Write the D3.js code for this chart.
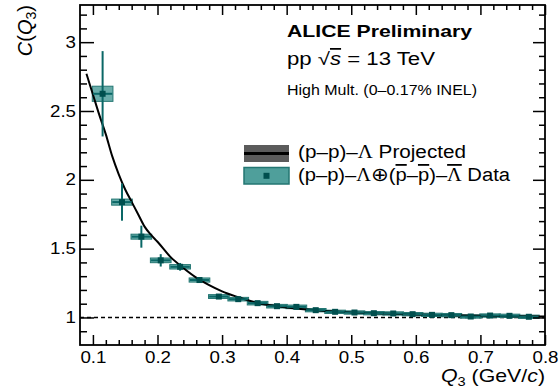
<!DOCTYPE html>
<html><head><meta charset="utf-8">
<script src="https://cdn.jsdelivr.net/npm/d3@7"></script>
<style>
html,body{margin:0;padding:0;background:#fff;}
svg{display:block;font-family:"Liberation Sans",Arial,Helvetica,sans-serif;}
</style></head>
<body><svg id="c" width="559" height="391"></svg>
<script>
// ---- data ----
const q3 = [0.115,0.145,0.175,0.205,0.235,0.265,0.295,0.325,0.355,0.385,0.415,0.445,0.475,0.505,0.535,0.565,0.595,0.625,0.655,0.685,0.715,0.745,0.775];
const cq3 = [2.625,1.838,1.587,1.415,1.368,1.272,1.152,1.133,1.104,1.082,1.077,1.053,1.041,1.036,1.031,1.029,1.024,1.019,1.017,1.007,1.014,1.012,1.005];
const statErr = [0.31,0.135,0.08,0.045,0.028,0.02,0.012,0.01,0.009,0.008,0.008,0.007,0.007,0.006,0.006,0.006,0.006,0.006,0.006,0.006,0.006,0.006,0.006];
const sysErr = [0.055,0.022,0.018,0.017,0.016,0.015,0.014,0.013,0.013,0.013,0.013,0.012,0.012,0.012,0.012,0.012,0.012,0.012,0.012,0.012,0.012,0.012,0.012];
const xErr = 0.015;
const sysHalfWidth = 0.016;
const curveQ = [0.09,0.10,0.11,0.12,0.13,0.14,0.15,0.16,0.17,0.18,0.19,0.20,0.22,0.24,0.26,0.28,0.30,0.32,0.34,0.36,0.38,0.40,0.45,0.50,0.55,0.60,0.65,0.70,0.75,0.80];
const curveC = [2.77,2.62,2.47,2.33,2.17,2.04,1.93,1.84,1.75,1.66,1.60,1.55,1.44,1.36,1.29,1.235,1.19,1.155,1.125,1.10,1.085,1.072,1.05,1.037,1.028,1.021,1.016,1.012,1.009,1.007];
const xMajor = [0.1,0.2,0.3,0.4,0.5,0.6,0.7,0.8];
const yMajor = [1,1.5,2,2.5,3];
const xMinor = d3.range(12,80,2).map(v=>v/100).filter(v=>!xMajor.some(m=>Math.abs(m-v)<1e-6));
const yMinor = d3.range(9,33,1).map(v=>v/10).filter(v=>!yMajor.some(m=>Math.abs(m-v)<1e-6));

// ---- layout ----
const L=80, R=545, T=5, B=345;
const svg = d3.select("#c");
const x = d3.scaleLinear().domain([0.08,0.8]).range([L,R]);
const y = d3.scaleLinear().domain([0.8,3.27]).range([B,T]);

const teal = "#0a6766", tealDark="#004f4e", boxFill="#4f9f9b", boxStroke="#237672";
const stretch = 1.17;
function stretchText(sel, f){ sel.each(function(){ const w=this.getComputedTextLength(); d3.select(this).attr("textLength", w*f).attr("lengthAdjust","spacingAndGlyphs"); }); }

// dashed baseline
svg.append("line").attr("x1",x(0.08)).attr("x2",x(0.8)).attr("y1",y(1)).attr("y2",y(1))
  .attr("stroke","#000").attr("stroke-width",1.4).attr("stroke-dasharray","4,3");

// systematic boxes
svg.append("g").selectAll("rect").data(q3).join("rect")
  .attr("x",(d)=>x(d-sysHalfWidth)).attr("width",(d)=>x(d+sysHalfWidth)-x(d-sysHalfWidth))
  .attr("y",(d,i)=>y(cq3[i]+sysErr[i])).attr("height",(d,i)=>y(cq3[i]-sysErr[i])-y(cq3[i]+sysErr[i]))
  .attr("fill",boxFill).attr("fill-opacity",0.85).attr("stroke",boxStroke).attr("stroke-width",1);

// projected curve
svg.append("path").datum(curveQ.map((q,i)=>[q,curveC[i]]))
  .attr("d", d3.line().x(d=>x(d[0])).y(d=>y(d[1])).curve(d3.curveMonotoneX))
  .attr("fill","none").attr("stroke","#000").attr("stroke-width",2);

// error bars
const eg = svg.append("g").attr("stroke",teal).attr("stroke-width",2);
eg.selectAll("line.v").data(q3).join("line").attr("class","v")
  .attr("x1",d=>x(d)).attr("x2",d=>x(d)).attr("y1",(d,i)=>y(cq3[i]+statErr[i])).attr("y2",(d,i)=>y(cq3[i]-statErr[i]));
eg.selectAll("line.h").data(q3).join("line").attr("class","h")
  .attr("x1",d=>x(d-xErr)).attr("x2",d=>x(d+xErr)).attr("y1",(d,i)=>y(cq3[i])).attr("y2",(d,i)=>y(cq3[i]));
svg.append("g").selectAll("rect").data(q3).join("rect")
  .attr("x",d=>x(d)-3).attr("y",(d,i)=>y(cq3[i])-3).attr("width",6).attr("height",6).attr("fill",tealDark);

// axes: ticks inward, mirrored
function tickAxis(gen, transform, size, values, labels){
  const g = svg.append("g").attr("transform",transform)
    .call(gen.tickValues(values).tickSize(size).tickSizeOuter(0).tickFormat(labels?d3.format("~g"):""));
  g.select(".domain").remove();
  g.selectAll("line").attr("stroke","#000").attr("stroke-width",1.5);
  return g;
}
const xb = tickAxis(d3.axisBottom(x).tickPadding(7), `translate(0,${B})`, -10, xMajor, true);
tickAxis(d3.axisBottom(x), `translate(0,${B})`, -5, xMinor, false);
tickAxis(d3.axisTop(x), `translate(0,${T})`, -10, xMajor, false);
tickAxis(d3.axisTop(x), `translate(0,${T})`, -5, xMinor, false);
const yl = tickAxis(d3.axisLeft(y).tickPadding(4), `translate(${L},0)`, -14, yMajor, true);
tickAxis(d3.axisLeft(y), `translate(${L},0)`, -7, yMinor, false);
tickAxis(d3.axisRight(y), `translate(${R},0)`, -12, yMajor, false);
tickAxis(d3.axisRight(y), `translate(${R},0)`, -6, yMinor, false);
[xb,yl].forEach(g=>{ g.selectAll("text").attr("font-size",16).attr("fill","#000").attr("font-family","Liberation Sans, Arial, sans-serif"); stretchText(g.selectAll("text"),stretch); });

// frame
svg.append("rect").attr("x",L).attr("y",T).attr("width",R-L).attr("height",B-T)
  .attr("fill","none").attr("stroke","#000").attr("stroke-width",1.8);

// axis titles
const xt = svg.append("text").attr("x",R).attr("y",382).attr("text-anchor","end").attr("font-size",19);
xt.append("tspan").attr("font-style","italic").text("Q");
xt.append("tspan").attr("font-size",13).attr("dy",4).text("3");
xt.append("tspan").attr("dy",-4).text(" (GeV/");
xt.append("tspan").attr("font-style","italic").text("c");
xt.append("tspan").text(")");
xt.attr("textLength",104).attr("lengthAdjust","spacingAndGlyphs");

const yt = svg.append("text").attr("transform","translate(32,5) rotate(-90)").attr("text-anchor","end").attr("font-size",20);
yt.append("tspan").attr("font-style","italic").text("C");
yt.append("tspan").text("(");
yt.append("tspan").attr("font-style","italic").text("Q");
yt.append("tspan").attr("font-size",14).attr("dy",4).text("3");
yt.append("tspan").attr("dy",-4).text(")");

// labels
svg.append("text").attr("x",287).attr("y",37).attr("font-size",16.5).attr("font-weight","bold")
  .text("ALICE Preliminary").attr("textLength",185).attr("lengthAdjust","spacingAndGlyphs");
const pp = svg.append("text").attr("x",287).attr("y",65).attr("font-size",17.5);
pp.append("tspan").text("pp  √");
pp.append("tspan").attr("font-style","italic").attr("text-decoration","overline").text("s");
pp.append("tspan").text(" = 13 TeV");
pp.attr("textLength",148).attr("lengthAdjust","spacingAndGlyphs");
svg.append("text").attr("x",287).attr("y",95).attr("font-size",14)
  .text("High Mult. (0\u20130.17% INEL)").attr("textLength",190).attr("lengthAdjust","spacingAndGlyphs");

// legend
const lg = svg.append("g");
lg.append("rect").attr("x",244).attr("y",145).attr("width",45).attr("height",17).attr("fill","#5b5b5b");
lg.append("line").attr("x1",244).attr("x2",289).attr("y1",153.5).attr("y2",153.5).attr("stroke","#000").attr("stroke-width",3);
lg.append("rect").attr("x",244).attr("y",167.5).attr("width",45).attr("height",16.5).attr("fill",boxFill).attr("stroke",boxStroke).attr("stroke-width",1.5);
lg.append("rect").attr("x",263.5).attr("y",172.8).attr("width",6).attr("height",6).attr("fill",tealDark);

const serif = "Liberation Serif, Times New Roman, serif";
const l1 = lg.append("text").attr("x",298).attr("y",158).attr("font-size",18);
l1.append("tspan").text("(p\u2013p)\u2013");
l1.append("tspan").attr("font-family",serif).text("\u039B");
l1.append("tspan").text(" Projected");
l1.attr("textLength",168).attr("lengthAdjust","spacingAndGlyphs");

const l2 = lg.append("text").attr("x",298).attr("y",181).attr("font-size",18);
l2.append("tspan").text("(p\u2013p)\u2013");
l2.append("tspan").attr("font-family",serif).text("\u039B");
l2.append("tspan").attr("font-family","DejaVu Sans").attr("font-size",19).text("\u2295");
l2.append("tspan").text("(");
l2.append("tspan").attr("text-decoration","overline").text("p");
l2.append("tspan").text("\u2013");
l2.append("tspan").attr("text-decoration","overline").text("p");
l2.append("tspan").text(")\u2013");
l2.append("tspan").attr("font-family",serif).attr("text-decoration","overline").text("\u039B");
l2.append("tspan").text(" Data");
l2.attr("textLength",212).attr("lengthAdjust","spacingAndGlyphs");
</script></body></html>
